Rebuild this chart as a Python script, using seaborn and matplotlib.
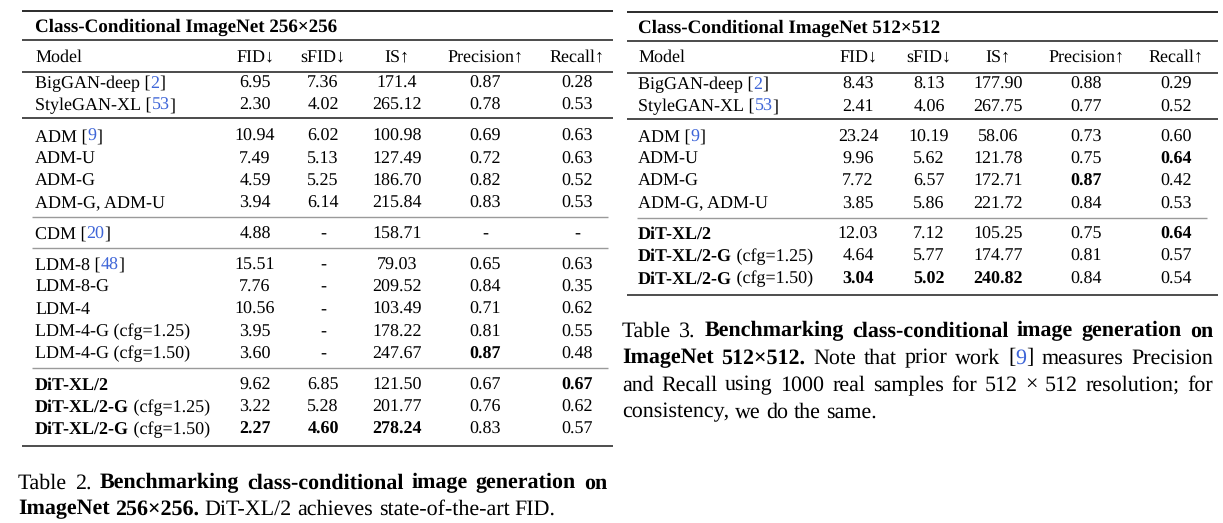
import re
import numpy as np
import pandas as pd
import matplotlib
matplotlib.use("Agg")
import matplotlib.pyplot as plt
import seaborn as sns
from matplotlib.font_manager import FontProperties

# ---------------- data ----------------
title_256 = "Class-Conditional ImageNet 256\u00d7256"
title_512 = "Class-Conditional ImageNet 512\u00d7512"
headers = ["Model", "FID\u2193", "sFID\u2193", "IS\u2191", "Precision\u2191", "Recall\u2191"]

models_256 = ["BigGAN-deep [2]", "StyleGAN-XL [53]",
              "ADM [9]", "ADM-U", "ADM-G", "ADM-G, ADM-U",
              "CDM [20]",
              "LDM-8 [48]", "LDM-8-G", "LDM-4", "LDM-4-G (cfg=1.25)", "LDM-4-G (cfg=1.50)",
              "DiT-XL/2", "DiT-XL/2-G (cfg=1.25)", "DiT-XL/2-G (cfg=1.50)"]
groups_256 = [0, 0, 1, 1, 1, 1, 2, 3, 3, 3, 3, 3, 4, 4, 4]
fid_256 = ["6.95", "2.30", "10.94", "7.49", "4.59", "3.94", "4.88", "15.51", "7.76", "10.56", "3.95", "3.60", "9.62", "3.22", "2.27"]
sfid_256 = ["7.36", "4.02", "6.02", "5.13", "5.25", "6.14", "-", "-", "-", "-", "-", "-", "6.85", "5.28", "4.60"]
is_256 = ["171.4", "265.12", "100.98", "127.49", "186.70", "215.84", "158.71", "79.03", "209.52", "103.49", "178.22", "247.67", "121.50", "201.77", "278.24"]
prec_256 = ["0.87", "0.78", "0.69", "0.72", "0.82", "0.83", "-", "0.65", "0.84", "0.71", "0.81", "0.87", "0.67", "0.76", "0.83"]
rec_256 = ["0.28", "0.53", "0.63", "0.63", "0.52", "0.53", "-", "0.63", "0.35", "0.62", "0.55", "0.48", "0.67", "0.62", "0.57"]
best_256 = [(11, "Precision"), (12, "Recall"), (14, "FID"), (14, "sFID"), (14, "IS")]

models_512 = ["BigGAN-deep [2]", "StyleGAN-XL [53]",
              "ADM [9]", "ADM-U", "ADM-G", "ADM-G, ADM-U",
              "DiT-XL/2", "DiT-XL/2-G (cfg=1.25)", "DiT-XL/2-G (cfg=1.50)"]
groups_512 = [0, 0, 1, 1, 1, 1, 2, 2, 2]
fid_512 = ["8.43", "2.41", "23.24", "9.96", "7.72", "3.85", "12.03", "4.64", "3.04"]
sfid_512 = ["8.13", "4.06", "10.19", "5.62", "6.57", "5.86", "7.12", "5.77", "5.02"]
is_512 = ["177.90", "267.75", "58.06", "121.78", "172.71", "221.72", "105.25", "174.77", "240.82"]
prec_512 = ["0.88", "0.77", "0.73", "0.75", "0.87", "0.84", "0.75", "0.81", "0.84"]
rec_512 = ["0.29", "0.52", "0.60", "0.64", "0.42", "0.53", "0.64", "0.57", "0.54"]
best_512 = [(3, "Recall"), (4, "Precision"), (6, "Recall"), (8, "FID"), (8, "sFID"), (8, "IS")]

caption_256 = ["Table 2.  **Benchmarking class-conditional image generation on**",
               "**ImageNet 256\u00d7256.** DiT-XL/2 achieves state-of-the-art FID."]
caption_512 = ["Table 3.  **Benchmarking class-conditional image generation on**",
               "**ImageNet 512\u00d7512.** Note that prior work [{9}] measures Precision",
               "and Recall using 1000 real samples for 512 \u00d7 512 resolution; for",
               "consistency, we do the same."]

df256 = pd.DataFrame({"Model": models_256, "FID": fid_256, "sFID": sfid_256, "IS": is_256,
                      "Precision": prec_256, "Recall": rec_256, "group": groups_256})
df512 = pd.DataFrame({"Model": models_512, "FID": fid_512, "sFID": sfid_512, "IS": is_512,
                      "Precision": prec_512, "Recall": rec_512, "group": groups_512})

# ---------------- style ----------------
sns.set_theme(style="white")
FAM = ["Liberation Serif", "DejaVu Serif"]
plt.rcParams["font.family"] = FAM
plt.rcParams["text.hinting"] = "no_hinting"
plt.rcParams["text.hinting_factor"] = 1
BLUE = "#3f66d8"
BODY = 13.0
TITLE = 13.4
CAP = 16.15

W, H = 1223, 523
fig = plt.figure(figsize=(W / 100, H / 100), dpi=100)
ax = fig.add_axes([0, 0, 1, 1])
ax.set_xlim(0, W)
ax.set_ylim(H, 0)
ax.axis("off")
renderer = fig.canvas.get_renderer()

_cache = {}


def tw(s, size, bold):
    key = (s, size, bold)
    if key not in _cache:
        fp = FontProperties(family=FAM, size=size, weight="bold" if bold else "normal")
        w1 = renderer.get_text_width_height_descent("|" + s + "|", fp, ismath=False)[0]
        w0 = renderer.get_text_width_height_descent("||", fp, ismath=False)[0]
        _cache[key] = w1 - w0
    return _cache[key]


def draw_runs(x, y, runs, size, ha="left"):
    widths = [tw(t, size, b) for t, b, c in runs]
    total = sum(widths)
    if ha == "center":
        x = x - total / 2
    for (t, b, c), w in zip(runs, widths):
        ax.text(x, y, t, fontsize=size, fontweight="bold" if b else "normal", color=c,
                ha="left", va="baseline", fontfamily=FAM)
        x += w
    return total


def parse_markup(line):
    """**bold**, {blue}"""
    runs = []
    bold = False
    blue = False
    for piece in re.split(r"(\*\*|\{|\})", line):
        if piece == "**":
            bold = not bold
        elif piece == "{":
            blue = True
        elif piece == "}":
            blue = False
        elif piece:
            runs.append((piece, bold, BLUE if blue else "black"))
    return runs


def model_runs(name):
    if name.startswith("DiT"):
        if " (" in name:
            i = name.index(" (")
            name = "**" + name[:i] + "**" + name[i:]
        else:
            name = "**" + name + "**"
    name = re.sub(r"\[(\d+)\]", r"[{\1}]", name)
    return parse_markup(name)


def words_of(runs):
    words = [[]]
    for t, b, c in runs:
        parts = t.split(" ")
        for k, p in enumerate(parts):
            if k > 0:
                words.append([])
            if p:
                words[-1].append((p, b, c))
    return [w for w in words if w]


def draw_line(x0, x1, y, line, size, justify):
    words = words_of(parse_markup(line))
    wid = [sum(tw(t, size, b) for t, b, c in wd) for wd in words]
    space = tw(" ", size, False)
    if justify and len(words) > 1:
        gap = (x1 - x0 - sum(wid)) / (len(words) - 1)
    else:
        gap = space
    x = x0
    for wd, w in zip(words, wid):
        draw_runs(x, y, wd, size)
        x += w + gap


def draw_table(df, best, title, x_model, col_x, y_title, y_head, y_row0, pitch, gap,
               rules_x, gray_x, rule_top, rule_title, rule_head):
    cols = ["FID", "sFID", "IS", "Precision", "Recall"]
    base = 6.0
    draw_runs(x_model, y_title + base, [(title, True, "black")], TITLE)
    draw_runs(x_model, y_head + base, [(headers[0], False, "black")], BODY)
    for h, cx in zip(headers[1:], col_x):
        draw_runs(cx, y_head + base, [(h, False, "black")], BODY, ha="center")
    ys = [y_row0 + pitch * i + gap * g for i, g in enumerate(df["group"])]
    bset = set(best)
    for i, row in df.iterrows():
        y = ys[i] + base
        draw_runs(x_model, y, model_runs(row["Model"]), BODY)
        for c, cx in zip(cols, col_x):
            draw_runs(cx, y, [(row[c], (i, c) in bset, "black")], BODY, ha="center")
    ax.hlines([rule_top], *rules_x, color="#1a1a1a", lw=1.3)
    ax.hlines([rule_title, rule_head], *rules_x, color="#1a1a1a", lw=1.1)
    g = list(df["group"])
    for i in range(1, len(g)):
        if g[i] != g[i - 1]:
            ym = (ys[i] + ys[i - 1]) / 2
            if g[i - 1] == 0:
                ax.hlines(ym - 1.5, *rules_x, color="#1a1a1a", lw=1.1)
            else:
                ax.hlines(ym, *gray_x, color="#9a9a9a", lw=1.0)
    ax.hlines(ys[-1] + 17.5, *rules_x, color="#4d4d4d", lw=1.4)


draw_table(df256, best_256, title_256, 35, [255, 323, 397, 485, 577],
           26, 56, 82, 22.2, 8.8, (22, 613), (32, 608), 10.5, 40, 71.5)
draw_table(df512, best_512, title_512, 638, [858, 929, 998, 1086, 1176],
           27, 56, 83, 22.3, 8.0, (627, 1218), (637, 1207), 11.5, 41, 72.5)

cb = 7.3
draw_line(18, 607, 481 + cb, caption_256[0], CAP, True)
draw_line(18, 607, 507 + cb, caption_256[1], CAP, False)
for k, line in enumerate(caption_512):
    draw_line(622, 1213, 329 + 27 * k + cb, line, CAP, k < 3)

fig.savefig("out.png", dpi=100, facecolor="white")
